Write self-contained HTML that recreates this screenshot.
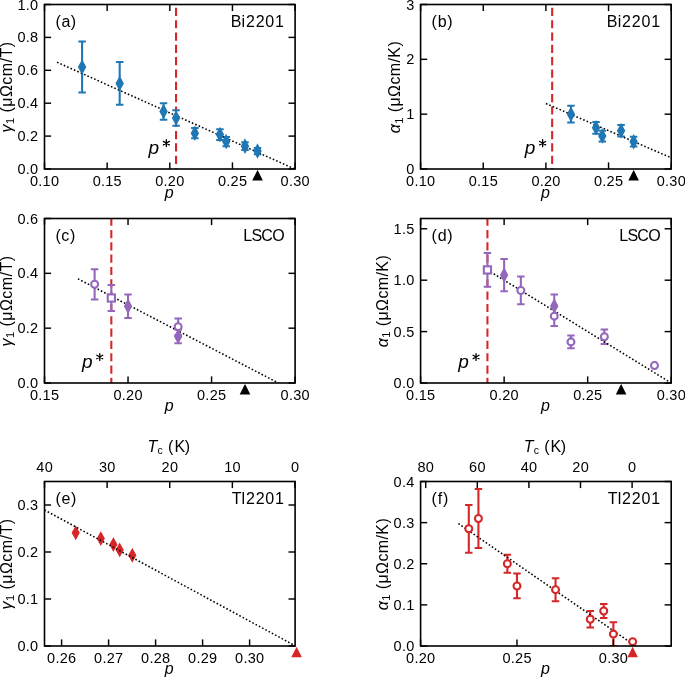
<!DOCTYPE html>
<html><head><meta charset="utf-8"><style>html,body{margin:0;padding:0;background:#fff;width:685px;height:678px;overflow:hidden}</style></head>
<body>
<svg width="685" height="678" viewBox="0 0 685 678" style="display:block;will-change:transform;font-family:'Liberation Sans',sans-serif">
<rect width="685" height="678" fill="#fff"/>
<defs>
<clipPath id="ca"><rect x="44.5" y="4.5" width="250.6" height="164.5"/></clipPath>
<clipPath id="cb"><rect x="420.6" y="4.5" width="250.6" height="164.5"/></clipPath>
<clipPath id="cc"><rect x="44.5" y="218.5" width="250.6" height="164.5"/></clipPath>
<clipPath id="cd"><rect x="420.6" y="218.5" width="250.6" height="164.5"/></clipPath>
<clipPath id="ce"><rect x="44.5" y="481.5" width="250.6" height="164.5"/></clipPath>
<clipPath id="cf"><rect x="420.6" y="481.5" width="250.6" height="164.5"/></clipPath>
</defs>
<g clip-path="url(#ca)">
<line x1="176.06" y1="169" x2="176.06" y2="4.5" stroke="#d62728" stroke-width="2.08" stroke-dasharray="8.2 4.12" stroke-dashoffset="7.2"/>
<line x1="82.09" y1="92.51" x2="82.09" y2="41.51" stroke="#1f77b4" stroke-width="2.08"/>
<line x1="78.34" y1="92.51" x2="85.84" y2="92.51" stroke="#1f77b4" stroke-width="2.0"/>
<line x1="78.34" y1="41.51" x2="85.84" y2="41.51" stroke="#1f77b4" stroke-width="2.0"/>
<line x1="119.68" y1="104.84" x2="119.68" y2="62.08" stroke="#1f77b4" stroke-width="2.08"/>
<line x1="115.93" y1="104.84" x2="123.43" y2="104.84" stroke="#1f77b4" stroke-width="2.0"/>
<line x1="115.93" y1="62.08" x2="123.43" y2="62.08" stroke="#1f77b4" stroke-width="2.0"/>
<line x1="163.54" y1="119.65" x2="163.54" y2="103.2" stroke="#1f77b4" stroke-width="2.08"/>
<line x1="159.79" y1="119.65" x2="167.29" y2="119.65" stroke="#1f77b4" stroke-width="2.0"/>
<line x1="159.79" y1="103.2" x2="167.29" y2="103.2" stroke="#1f77b4" stroke-width="2.0"/>
<line x1="176.06" y1="125.74" x2="176.06" y2="110.27" stroke="#1f77b4" stroke-width="2.08"/>
<line x1="172.31" y1="125.74" x2="179.81" y2="125.74" stroke="#1f77b4" stroke-width="2.0"/>
<line x1="172.31" y1="110.27" x2="179.81" y2="110.27" stroke="#1f77b4" stroke-width="2.0"/>
<line x1="194.86" y1="138.24" x2="194.86" y2="128.04" stroke="#1f77b4" stroke-width="2.08"/>
<line x1="191.11" y1="138.24" x2="198.61" y2="138.24" stroke="#1f77b4" stroke-width="2.0"/>
<line x1="191.11" y1="128.04" x2="198.61" y2="128.04" stroke="#1f77b4" stroke-width="2.0"/>
<line x1="219.92" y1="140.05" x2="219.92" y2="129.19" stroke="#1f77b4" stroke-width="2.08"/>
<line x1="216.17" y1="140.05" x2="223.67" y2="140.05" stroke="#1f77b4" stroke-width="2.0"/>
<line x1="216.17" y1="129.19" x2="223.67" y2="129.19" stroke="#1f77b4" stroke-width="2.0"/>
<line x1="226.19" y1="146.13" x2="226.19" y2="136.92" stroke="#1f77b4" stroke-width="2.08"/>
<line x1="222.44" y1="146.13" x2="229.94" y2="146.13" stroke="#1f77b4" stroke-width="2.0"/>
<line x1="222.44" y1="136.92" x2="229.94" y2="136.92" stroke="#1f77b4" stroke-width="2.0"/>
<line x1="244.98" y1="150.08" x2="244.98" y2="142.19" stroke="#1f77b4" stroke-width="2.08"/>
<line x1="241.23" y1="150.08" x2="248.73" y2="150.08" stroke="#1f77b4" stroke-width="2.0"/>
<line x1="241.23" y1="142.19" x2="248.73" y2="142.19" stroke="#1f77b4" stroke-width="2.0"/>
<line x1="257.51" y1="154.13" x2="257.51" y2="148.01" stroke="#1f77b4" stroke-width="2.08"/>
<line x1="253.76" y1="154.13" x2="261.26" y2="154.13" stroke="#1f77b4" stroke-width="2.0"/>
<line x1="253.76" y1="148.01" x2="261.26" y2="148.01" stroke="#1f77b4" stroke-width="2.0"/>
<line x1="57.03" y1="62.24" x2="294.72" y2="169" stroke="#000" stroke-width="1.55" stroke-dasharray="1.6 2.095" stroke-dashoffset="0"/>
<polygon points="82.09,60.71 85.49,67.01 82.09,73.31 78.69,67.01" fill="#1f77b4" stroke="#1f77b4" stroke-width="1.39" stroke-linejoin="miter" stroke-miterlimit="6"/>
<polygon points="119.68,77.16 123.08,83.46 119.68,89.76 116.28,83.46" fill="#1f77b4" stroke="#1f77b4" stroke-width="1.39" stroke-linejoin="miter" stroke-miterlimit="6"/>
<polygon points="163.54,105.13 166.94,111.43 163.54,117.73 160.14,111.43" fill="#1f77b4" stroke="#1f77b4" stroke-width="1.39" stroke-linejoin="miter" stroke-miterlimit="6"/>
<polygon points="176.06,111.7 179.47,118 176.06,124.3 172.66,118" fill="#1f77b4" stroke="#1f77b4" stroke-width="1.39" stroke-linejoin="miter" stroke-miterlimit="6"/>
<polygon points="194.86,126.84 198.26,133.14 194.86,139.44 191.46,133.14" fill="#1f77b4" stroke="#1f77b4" stroke-width="1.39" stroke-linejoin="miter" stroke-miterlimit="6"/>
<polygon points="219.92,128.32 223.32,134.62 219.92,140.92 216.52,134.62" fill="#1f77b4" stroke="#1f77b4" stroke-width="1.39" stroke-linejoin="miter" stroke-miterlimit="6"/>
<polygon points="226.19,135.23 229.59,141.53 226.19,147.83 222.78,141.53" fill="#1f77b4" stroke="#1f77b4" stroke-width="1.39" stroke-linejoin="miter" stroke-miterlimit="6"/>
<polygon points="244.98,139.83 248.38,146.13 244.98,152.43 241.58,146.13" fill="#1f77b4" stroke="#1f77b4" stroke-width="1.39" stroke-linejoin="miter" stroke-miterlimit="6"/>
<polygon points="257.51,144.77 260.91,151.07 257.51,157.37 254.11,151.07" fill="#1f77b4" stroke="#1f77b4" stroke-width="1.39" stroke-linejoin="miter" stroke-miterlimit="6"/>
</g>
<g clip-path="url(#cb)">
<line x1="552.16" y1="169" x2="552.16" y2="4.5" stroke="#d62728" stroke-width="2.08" stroke-dasharray="8.2 4.12" stroke-dashoffset="7.2"/>
<line x1="570.96" y1="122.5" x2="570.96" y2="105.83" stroke="#1f77b4" stroke-width="2.08"/>
<line x1="567.21" y1="122.5" x2="574.71" y2="122.5" stroke="#1f77b4" stroke-width="2.0"/>
<line x1="567.21" y1="105.83" x2="574.71" y2="105.83" stroke="#1f77b4" stroke-width="2.0"/>
<line x1="596.02" y1="133.63" x2="596.02" y2="121.9" stroke="#1f77b4" stroke-width="2.08"/>
<line x1="592.27" y1="133.63" x2="599.77" y2="133.63" stroke="#1f77b4" stroke-width="2.0"/>
<line x1="592.27" y1="121.9" x2="599.77" y2="121.9" stroke="#1f77b4" stroke-width="2.0"/>
<line x1="602.29" y1="141.47" x2="602.29" y2="130.73" stroke="#1f77b4" stroke-width="2.08"/>
<line x1="598.54" y1="141.47" x2="606.04" y2="141.47" stroke="#1f77b4" stroke-width="2.0"/>
<line x1="598.54" y1="130.73" x2="606.04" y2="130.73" stroke="#1f77b4" stroke-width="2.0"/>
<line x1="621.08" y1="136.54" x2="621.08" y2="124.91" stroke="#1f77b4" stroke-width="2.08"/>
<line x1="617.33" y1="136.54" x2="624.83" y2="136.54" stroke="#1f77b4" stroke-width="2.0"/>
<line x1="617.33" y1="124.91" x2="624.83" y2="124.91" stroke="#1f77b4" stroke-width="2.0"/>
<line x1="633.61" y1="146.46" x2="633.61" y2="136.81" stroke="#1f77b4" stroke-width="2.08"/>
<line x1="629.86" y1="146.46" x2="637.36" y2="146.46" stroke="#1f77b4" stroke-width="2.0"/>
<line x1="629.86" y1="136.81" x2="637.36" y2="136.81" stroke="#1f77b4" stroke-width="2.0"/>
<line x1="545.9" y1="103.53" x2="671.2" y2="157.81" stroke="#000" stroke-width="1.55" stroke-dasharray="1.6 2.095" stroke-dashoffset="0"/>
<polygon points="570.96,107.87 574.36,114.17 570.96,120.47 567.56,114.17" fill="#1f77b4" stroke="#1f77b4" stroke-width="1.39" stroke-linejoin="miter" stroke-miterlimit="6"/>
<polygon points="596.02,121.47 599.42,127.77 596.02,134.07 592.62,127.77" fill="#1f77b4" stroke="#1f77b4" stroke-width="1.39" stroke-linejoin="miter" stroke-miterlimit="6"/>
<polygon points="602.29,129.8 605.69,136.1 602.29,142.4 598.89,136.1" fill="#1f77b4" stroke="#1f77b4" stroke-width="1.39" stroke-linejoin="miter" stroke-miterlimit="6"/>
<polygon points="621.08,124.43 624.48,130.73 621.08,137.03 617.68,130.73" fill="#1f77b4" stroke="#1f77b4" stroke-width="1.39" stroke-linejoin="miter" stroke-miterlimit="6"/>
<polygon points="633.61,135.34 637.01,141.64 633.61,147.94 630.21,141.64" fill="#1f77b4" stroke="#1f77b4" stroke-width="1.39" stroke-linejoin="miter" stroke-miterlimit="6"/>
</g>
<g clip-path="url(#cc)">
<line x1="111.33" y1="383" x2="111.33" y2="218.5" stroke="#d62728" stroke-width="2.08" stroke-dasharray="8.2 4.12" stroke-dashoffset="3"/>
<line x1="94.62" y1="299.38" x2="94.62" y2="269.22" stroke="#9467bd" stroke-width="2.08"/>
<line x1="90.87" y1="299.38" x2="98.37" y2="299.38" stroke="#9467bd" stroke-width="2.0"/>
<line x1="90.87" y1="269.22" x2="98.37" y2="269.22" stroke="#9467bd" stroke-width="2.0"/>
<line x1="111.33" y1="310.89" x2="111.33" y2="285.12" stroke="#9467bd" stroke-width="2.08"/>
<line x1="107.58" y1="310.89" x2="115.08" y2="310.89" stroke="#9467bd" stroke-width="2.0"/>
<line x1="107.58" y1="285.12" x2="115.08" y2="285.12" stroke="#9467bd" stroke-width="2.0"/>
<line x1="128.03" y1="318.02" x2="128.03" y2="294.44" stroke="#9467bd" stroke-width="2.08"/>
<line x1="124.28" y1="318.02" x2="131.78" y2="318.02" stroke="#9467bd" stroke-width="2.0"/>
<line x1="124.28" y1="294.44" x2="131.78" y2="294.44" stroke="#9467bd" stroke-width="2.0"/>
<line x1="178.15" y1="335.02" x2="178.15" y2="318.57" stroke="#9467bd" stroke-width="2.08"/>
<line x1="174.4" y1="335.02" x2="181.9" y2="335.02" stroke="#9467bd" stroke-width="2.0"/>
<line x1="174.4" y1="318.57" x2="181.9" y2="318.57" stroke="#9467bd" stroke-width="2.0"/>
<line x1="178.15" y1="343.25" x2="178.15" y2="329.54" stroke="#9467bd" stroke-width="2.08"/>
<line x1="174.4" y1="343.25" x2="181.9" y2="343.25" stroke="#9467bd" stroke-width="2.0"/>
<line x1="174.4" y1="329.54" x2="181.9" y2="329.54" stroke="#9467bd" stroke-width="2.0"/>
<line x1="77.91" y1="278.82" x2="278.39" y2="383" stroke="#000" stroke-width="1.55" stroke-dasharray="1.6 2.095" stroke-dashoffset="0"/>
<circle cx="94.62" cy="284.3" r="3.47" fill="#fff" stroke="#9467bd" stroke-width="2.08"/>
<rect x="107.73" y="294.41" width="7.2" height="7.2" fill="#fff" stroke="#9467bd" stroke-width="2.08"/>
<polygon points="128.03,299.93 131.43,306.23 128.03,312.53 124.63,306.23" fill="#9467bd" stroke="#9467bd" stroke-width="1.39" stroke-linejoin="miter" stroke-miterlimit="6"/>
<circle cx="178.15" cy="326.8" r="3.47" fill="#fff" stroke="#9467bd" stroke-width="2.08"/>
<polygon points="178.15,330.09 181.55,336.39 178.15,342.69 174.75,336.39" fill="#9467bd" stroke="#9467bd" stroke-width="1.39" stroke-linejoin="miter" stroke-miterlimit="6"/>
</g>
<g clip-path="url(#cd)">
<line x1="487.43" y1="383" x2="487.43" y2="218.5" stroke="#d62728" stroke-width="2.08" stroke-dasharray="8.2 4.12" stroke-dashoffset="3"/>
<line x1="487.43" y1="286.87" x2="487.43" y2="252.94" stroke="#9467bd" stroke-width="2.08"/>
<line x1="483.68" y1="286.87" x2="491.18" y2="286.87" stroke="#9467bd" stroke-width="2.0"/>
<line x1="483.68" y1="252.94" x2="491.18" y2="252.94" stroke="#9467bd" stroke-width="2.0"/>
<line x1="504.13" y1="291.19" x2="504.13" y2="258.91" stroke="#9467bd" stroke-width="2.08"/>
<line x1="500.38" y1="291.19" x2="507.88" y2="291.19" stroke="#9467bd" stroke-width="2.0"/>
<line x1="500.38" y1="258.91" x2="507.88" y2="258.91" stroke="#9467bd" stroke-width="2.0"/>
<line x1="520.84" y1="304.35" x2="520.84" y2="276.59" stroke="#9467bd" stroke-width="2.08"/>
<line x1="517.09" y1="304.35" x2="524.59" y2="304.35" stroke="#9467bd" stroke-width="2.0"/>
<line x1="517.09" y1="276.59" x2="524.59" y2="276.59" stroke="#9467bd" stroke-width="2.0"/>
<line x1="554.25" y1="317.2" x2="554.25" y2="294.58" stroke="#9467bd" stroke-width="2.08"/>
<line x1="550.5" y1="317.2" x2="558" y2="317.2" stroke="#9467bd" stroke-width="2.0"/>
<line x1="550.5" y1="294.58" x2="558" y2="294.58" stroke="#9467bd" stroke-width="2.0"/>
<line x1="554.25" y1="325.94" x2="554.25" y2="306.4" stroke="#9467bd" stroke-width="2.08"/>
<line x1="550.5" y1="325.94" x2="558" y2="325.94" stroke="#9467bd" stroke-width="2.0"/>
<line x1="550.5" y1="306.4" x2="558" y2="306.4" stroke="#9467bd" stroke-width="2.0"/>
<line x1="570.96" y1="348.35" x2="570.96" y2="335.4" stroke="#9467bd" stroke-width="2.08"/>
<line x1="567.21" y1="348.35" x2="574.71" y2="348.35" stroke="#9467bd" stroke-width="2.0"/>
<line x1="567.21" y1="335.4" x2="574.71" y2="335.4" stroke="#9467bd" stroke-width="2.0"/>
<line x1="604.37" y1="343.93" x2="604.37" y2="329.54" stroke="#9467bd" stroke-width="2.08"/>
<line x1="600.62" y1="343.93" x2="608.12" y2="343.93" stroke="#9467bd" stroke-width="2.0"/>
<line x1="600.62" y1="329.54" x2="608.12" y2="329.54" stroke="#9467bd" stroke-width="2.0"/>
<line x1="487.43" y1="269.91" x2="671.2" y2="383" stroke="#000" stroke-width="1.55" stroke-dasharray="1.6 2.095" stroke-dashoffset="0"/>
<rect x="483.83" y="266.31" width="7.2" height="7.2" fill="#fff" stroke="#9467bd" stroke-width="2.08"/>
<polygon points="504.13,268.75 507.53,275.05 504.13,281.35 500.73,275.05" fill="#9467bd" stroke="#9467bd" stroke-width="1.39" stroke-linejoin="miter" stroke-miterlimit="6"/>
<circle cx="520.84" cy="290.47" r="3.47" fill="#fff" stroke="#9467bd" stroke-width="2.08"/>
<polygon points="554.25,299.59 557.65,305.89 554.25,312.19 550.85,305.89" fill="#9467bd" stroke="#9467bd" stroke-width="1.39" stroke-linejoin="miter" stroke-miterlimit="6"/>
<circle cx="554.25" cy="316.17" r="3.47" fill="#fff" stroke="#9467bd" stroke-width="2.08"/>
<circle cx="570.96" cy="341.88" r="3.47" fill="#fff" stroke="#9467bd" stroke-width="2.08"/>
<circle cx="604.37" cy="336.73" r="3.47" fill="#fff" stroke="#9467bd" stroke-width="2.08"/>
<circle cx="654.49" cy="365.52" r="3.47" fill="#fff" stroke="#9467bd" stroke-width="2.08"/>
</g>
<g clip-path="url(#ce)">
<polygon points="75.7,526.83 79,532.78 75.7,538.73 72.4,532.78" fill="#d62728" stroke="#d62728" stroke-width="1.39" stroke-linejoin="miter" stroke-miterlimit="6"/>
<polygon points="100.8,532.65 104.1,538.61 100.8,544.56 97.5,538.61" fill="#d62728" stroke="#d62728" stroke-width="1.39" stroke-linejoin="miter" stroke-miterlimit="6"/>
<polygon points="113.39,538.67 116.69,544.62 113.39,550.57 110.09,544.62" fill="#d62728" stroke="#d62728" stroke-width="1.39" stroke-linejoin="miter" stroke-miterlimit="6"/>
<polygon points="119.69,543.98 122.99,549.93 119.69,555.88 116.39,549.93" fill="#d62728" stroke="#d62728" stroke-width="1.39" stroke-linejoin="miter" stroke-miterlimit="6"/>
<polygon points="132.29,549.39 135.59,555.34 132.29,561.29 128.99,555.34" fill="#d62728" stroke="#d62728" stroke-width="1.39" stroke-linejoin="miter" stroke-miterlimit="6"/>
<line x1="44.5" y1="510" x2="295.2" y2="645.8" stroke="#000" stroke-width="1.55" stroke-dasharray="1.6 2.095" stroke-dashoffset="0.1"/>
</g>
<g clip-path="url(#cf)">
<line x1="468.79" y1="552.65" x2="468.79" y2="504.94" stroke="#d62728" stroke-width="2.08"/>
<line x1="465.04" y1="552.65" x2="472.54" y2="552.65" stroke="#d62728" stroke-width="2.0"/>
<line x1="465.04" y1="504.94" x2="472.54" y2="504.94" stroke="#d62728" stroke-width="2.0"/>
<line x1="478.43" y1="548.12" x2="478.43" y2="488.9" stroke="#d62728" stroke-width="2.08"/>
<line x1="474.68" y1="548.12" x2="482.18" y2="548.12" stroke="#d62728" stroke-width="2.0"/>
<line x1="474.68" y1="488.9" x2="482.18" y2="488.9" stroke="#d62728" stroke-width="2.0"/>
<line x1="507.35" y1="572.8" x2="507.35" y2="554.7" stroke="#d62728" stroke-width="2.08"/>
<line x1="503.6" y1="572.8" x2="511.1" y2="572.8" stroke="#d62728" stroke-width="2.0"/>
<line x1="503.6" y1="554.7" x2="511.1" y2="554.7" stroke="#d62728" stroke-width="2.0"/>
<line x1="516.98" y1="598.29" x2="516.98" y2="573.62" stroke="#d62728" stroke-width="2.08"/>
<line x1="513.23" y1="598.29" x2="520.73" y2="598.29" stroke="#d62728" stroke-width="2.0"/>
<line x1="513.23" y1="573.62" x2="520.73" y2="573.62" stroke="#d62728" stroke-width="2.0"/>
<line x1="555.54" y1="601.17" x2="555.54" y2="578.14" stroke="#d62728" stroke-width="2.08"/>
<line x1="551.79" y1="601.17" x2="559.29" y2="601.17" stroke="#d62728" stroke-width="2.0"/>
<line x1="551.79" y1="578.14" x2="559.29" y2="578.14" stroke="#d62728" stroke-width="2.0"/>
<line x1="590.24" y1="627.49" x2="590.24" y2="611.04" stroke="#d62728" stroke-width="2.08"/>
<line x1="586.49" y1="627.49" x2="593.99" y2="627.49" stroke="#d62728" stroke-width="2.0"/>
<line x1="586.49" y1="611.04" x2="593.99" y2="611.04" stroke="#d62728" stroke-width="2.0"/>
<line x1="603.73" y1="618.03" x2="603.73" y2="604.05" stroke="#d62728" stroke-width="2.08"/>
<line x1="599.98" y1="618.03" x2="607.48" y2="618.03" stroke="#d62728" stroke-width="2.0"/>
<line x1="599.98" y1="604.05" x2="607.48" y2="604.05" stroke="#d62728" stroke-width="2.0"/>
<line x1="613.37" y1="646" x2="613.37" y2="622.15" stroke="#d62728" stroke-width="2.08"/>
<line x1="609.62" y1="646" x2="617.12" y2="646" stroke="#d62728" stroke-width="2.0"/>
<line x1="609.62" y1="622.15" x2="617.12" y2="622.15" stroke="#d62728" stroke-width="2.0"/>
<line x1="458.38" y1="523.57" x2="635.54" y2="646" stroke="#000" stroke-width="1.55" stroke-dasharray="1.6 2.095" stroke-dashoffset="0"/>
<circle cx="468.79" cy="528.79" r="3.47" fill="#fff" stroke="#d62728" stroke-width="2.08"/>
<circle cx="478.43" cy="518.51" r="3.47" fill="#fff" stroke="#d62728" stroke-width="2.08"/>
<circle cx="507.35" cy="563.75" r="3.47" fill="#fff" stroke="#d62728" stroke-width="2.08"/>
<circle cx="516.98" cy="585.96" r="3.47" fill="#fff" stroke="#d62728" stroke-width="2.08"/>
<circle cx="555.54" cy="589.66" r="3.47" fill="#fff" stroke="#d62728" stroke-width="2.08"/>
<circle cx="590.24" cy="619.27" r="3.47" fill="#fff" stroke="#d62728" stroke-width="2.08"/>
<circle cx="603.73" cy="611.04" r="3.47" fill="#fff" stroke="#d62728" stroke-width="2.08"/>
<circle cx="613.37" cy="634.07" r="3.47" fill="#fff" stroke="#d62728" stroke-width="2.08"/>
<circle cx="632.65" cy="641.68" r="3.47" fill="#fff" stroke="#d62728" stroke-width="2.08"/>
</g>
<g stroke="#000" stroke-width="1.45">
<line x1="44.5" y1="169" x2="44.5" y2="162.4"/>
<line x1="44.5" y1="4.5" x2="44.5" y2="11.1"/>
<line x1="107.15" y1="169" x2="107.15" y2="162.4"/>
<line x1="107.15" y1="4.5" x2="107.15" y2="11.1"/>
<line x1="169.8" y1="169" x2="169.8" y2="162.4"/>
<line x1="169.8" y1="4.5" x2="169.8" y2="11.1"/>
<line x1="232.45" y1="169" x2="232.45" y2="162.4"/>
<line x1="232.45" y1="4.5" x2="232.45" y2="11.1"/>
<line x1="295.1" y1="169" x2="295.1" y2="162.4"/>
<line x1="295.1" y1="4.5" x2="295.1" y2="11.1"/>
<line x1="44.5" y1="169" x2="51.1" y2="169"/>
<line x1="295.1" y1="169" x2="288.5" y2="169"/>
<line x1="44.5" y1="136.1" x2="51.1" y2="136.1"/>
<line x1="295.1" y1="136.1" x2="288.5" y2="136.1"/>
<line x1="44.5" y1="103.2" x2="51.1" y2="103.2"/>
<line x1="295.1" y1="103.2" x2="288.5" y2="103.2"/>
<line x1="44.5" y1="70.3" x2="51.1" y2="70.3"/>
<line x1="295.1" y1="70.3" x2="288.5" y2="70.3"/>
<line x1="44.5" y1="37.4" x2="51.1" y2="37.4"/>
<line x1="295.1" y1="37.4" x2="288.5" y2="37.4"/>
<line x1="44.5" y1="4.5" x2="51.1" y2="4.5"/>
<line x1="295.1" y1="4.5" x2="288.5" y2="4.5"/>
<line x1="420.6" y1="169" x2="420.6" y2="162.4"/>
<line x1="420.6" y1="4.5" x2="420.6" y2="11.1"/>
<line x1="483.25" y1="169" x2="483.25" y2="162.4"/>
<line x1="483.25" y1="4.5" x2="483.25" y2="11.1"/>
<line x1="545.9" y1="169" x2="545.9" y2="162.4"/>
<line x1="545.9" y1="4.5" x2="545.9" y2="11.1"/>
<line x1="608.55" y1="169" x2="608.55" y2="162.4"/>
<line x1="608.55" y1="4.5" x2="608.55" y2="11.1"/>
<line x1="671.2" y1="169" x2="671.2" y2="162.4"/>
<line x1="671.2" y1="4.5" x2="671.2" y2="11.1"/>
<line x1="420.6" y1="169" x2="427.2" y2="169"/>
<line x1="671.2" y1="169" x2="664.6" y2="169"/>
<line x1="420.6" y1="114.17" x2="427.2" y2="114.17"/>
<line x1="671.2" y1="114.17" x2="664.6" y2="114.17"/>
<line x1="420.6" y1="59.33" x2="427.2" y2="59.33"/>
<line x1="671.2" y1="59.33" x2="664.6" y2="59.33"/>
<line x1="420.6" y1="4.5" x2="427.2" y2="4.5"/>
<line x1="671.2" y1="4.5" x2="664.6" y2="4.5"/>
<line x1="44.5" y1="383" x2="44.5" y2="376.4"/>
<line x1="44.5" y1="218.5" x2="44.5" y2="225.1"/>
<line x1="128.03" y1="383" x2="128.03" y2="376.4"/>
<line x1="128.03" y1="218.5" x2="128.03" y2="225.1"/>
<line x1="211.57" y1="383" x2="211.57" y2="376.4"/>
<line x1="211.57" y1="218.5" x2="211.57" y2="225.1"/>
<line x1="295.1" y1="383" x2="295.1" y2="376.4"/>
<line x1="295.1" y1="218.5" x2="295.1" y2="225.1"/>
<line x1="44.5" y1="383" x2="51.1" y2="383"/>
<line x1="295.1" y1="383" x2="288.5" y2="383"/>
<line x1="44.5" y1="328.17" x2="51.1" y2="328.17"/>
<line x1="295.1" y1="328.17" x2="288.5" y2="328.17"/>
<line x1="44.5" y1="273.33" x2="51.1" y2="273.33"/>
<line x1="295.1" y1="273.33" x2="288.5" y2="273.33"/>
<line x1="44.5" y1="218.5" x2="51.1" y2="218.5"/>
<line x1="295.1" y1="218.5" x2="288.5" y2="218.5"/>
<line x1="420.6" y1="383" x2="420.6" y2="376.4"/>
<line x1="420.6" y1="218.5" x2="420.6" y2="225.1"/>
<line x1="504.13" y1="383" x2="504.13" y2="376.4"/>
<line x1="504.13" y1="218.5" x2="504.13" y2="225.1"/>
<line x1="587.67" y1="383" x2="587.67" y2="376.4"/>
<line x1="587.67" y1="218.5" x2="587.67" y2="225.1"/>
<line x1="671.2" y1="383" x2="671.2" y2="376.4"/>
<line x1="671.2" y1="218.5" x2="671.2" y2="225.1"/>
<line x1="420.6" y1="383" x2="427.2" y2="383"/>
<line x1="671.2" y1="383" x2="664.6" y2="383"/>
<line x1="420.6" y1="331.59" x2="427.2" y2="331.59"/>
<line x1="671.2" y1="331.59" x2="664.6" y2="331.59"/>
<line x1="420.6" y1="280.19" x2="427.2" y2="280.19"/>
<line x1="671.2" y1="280.19" x2="664.6" y2="280.19"/>
<line x1="420.6" y1="228.78" x2="427.2" y2="228.78"/>
<line x1="671.2" y1="228.78" x2="664.6" y2="228.78"/>
<line x1="61.6" y1="646" x2="61.6" y2="639.4"/>
<line x1="108.6" y1="646" x2="108.6" y2="639.4"/>
<line x1="155.6" y1="646" x2="155.6" y2="639.4"/>
<line x1="202.6" y1="646" x2="202.6" y2="639.4"/>
<line x1="249.6" y1="646" x2="249.6" y2="639.4"/>
<line x1="44.5" y1="481.5" x2="44.5" y2="488.1"/>
<line x1="107.12" y1="481.5" x2="107.12" y2="488.1"/>
<line x1="169.74" y1="481.5" x2="169.74" y2="488.1"/>
<line x1="232.36" y1="481.5" x2="232.36" y2="488.1"/>
<line x1="294.98" y1="481.5" x2="294.98" y2="488.1"/>
<line x1="44.5" y1="646" x2="51.1" y2="646"/>
<line x1="295.1" y1="646" x2="288.5" y2="646"/>
<line x1="44.5" y1="599" x2="51.1" y2="599"/>
<line x1="295.1" y1="599" x2="288.5" y2="599"/>
<line x1="44.5" y1="552" x2="51.1" y2="552"/>
<line x1="295.1" y1="552" x2="288.5" y2="552"/>
<line x1="44.5" y1="505" x2="51.1" y2="505"/>
<line x1="295.1" y1="505" x2="288.5" y2="505"/>
<line x1="420.6" y1="646" x2="420.6" y2="639.4"/>
<line x1="516.98" y1="646" x2="516.98" y2="639.4"/>
<line x1="613.37" y1="646" x2="613.37" y2="639.4"/>
<line x1="425.7" y1="481.5" x2="425.7" y2="488.1"/>
<line x1="477.3" y1="481.5" x2="477.3" y2="488.1"/>
<line x1="528.9" y1="481.5" x2="528.9" y2="488.1"/>
<line x1="580.5" y1="481.5" x2="580.5" y2="488.1"/>
<line x1="632.1" y1="481.5" x2="632.1" y2="488.1"/>
<line x1="420.6" y1="646" x2="427.2" y2="646"/>
<line x1="671.2" y1="646" x2="664.6" y2="646"/>
<line x1="420.6" y1="604.88" x2="427.2" y2="604.88"/>
<line x1="671.2" y1="604.88" x2="664.6" y2="604.88"/>
<line x1="420.6" y1="563.75" x2="427.2" y2="563.75"/>
<line x1="671.2" y1="563.75" x2="664.6" y2="563.75"/>
<line x1="420.6" y1="522.62" x2="427.2" y2="522.62"/>
<line x1="671.2" y1="522.62" x2="664.6" y2="522.62"/>
<line x1="420.6" y1="481.5" x2="427.2" y2="481.5"/>
<line x1="671.2" y1="481.5" x2="664.6" y2="481.5"/>
</g>
<rect x="44.5" y="4.5" width="250.6" height="164.5" fill="none" stroke="#000" stroke-width="1.6" stroke-linejoin="miter"/>
<rect x="420.6" y="4.5" width="250.6" height="164.5" fill="none" stroke="#000" stroke-width="1.6" stroke-linejoin="miter"/>
<rect x="44.5" y="218.5" width="250.6" height="164.5" fill="none" stroke="#000" stroke-width="1.6" stroke-linejoin="miter"/>
<rect x="420.6" y="218.5" width="250.6" height="164.5" fill="none" stroke="#000" stroke-width="1.6" stroke-linejoin="miter"/>
<rect x="44.5" y="481.5" width="250.6" height="164.5" fill="none" stroke="#000" stroke-width="1.6" stroke-linejoin="miter"/>
<rect x="420.6" y="481.5" width="250.6" height="164.5" fill="none" stroke="#000" stroke-width="1.6" stroke-linejoin="miter"/>
<polygon points="257.51,171.43 261.68,179.77 253.34,179.77" fill="#000" stroke="#000" stroke-width="1.39" stroke-linejoin="miter" stroke-miterlimit="6"/>
<polygon points="633.61,171.43 637.78,179.77 629.44,179.77" fill="#000" stroke="#000" stroke-width="1.39" stroke-linejoin="miter" stroke-miterlimit="6"/>
<polygon points="244.98,385.43 249.15,393.77 240.81,393.77" fill="#000" stroke="#000" stroke-width="1.39" stroke-linejoin="miter" stroke-miterlimit="6"/>
<polygon points="621.08,385.43 625.25,393.77 616.91,393.77" fill="#000" stroke="#000" stroke-width="1.39" stroke-linejoin="miter" stroke-miterlimit="6"/>
<polygon points="296.6,648.33 300.77,656.67 292.43,656.67" fill="#d62728" stroke="#d62728" stroke-width="1.39" stroke-linejoin="miter" stroke-miterlimit="6"/>
<polygon points="632.65,648.33 636.81,656.67 628.48,656.67" fill="#d62728" stroke="#d62728" stroke-width="1.39" stroke-linejoin="miter" stroke-miterlimit="6"/>
<text fill="#000" ><tspan x="29.98" y="185.6" style="font-size:14.5px">0</tspan><tspan x="38.29" y="185.6" style="font-size:14.5px">.</tspan><tspan x="42.56" y="185.6" style="font-size:14.5px">1</tspan><tspan x="50.96" y="185.6" style="font-size:14.5px">0</tspan></text>
<text fill="#000" ><tspan x="92.63" y="185.6" style="font-size:14.5px">0</tspan><tspan x="100.94" y="185.6" style="font-size:14.5px">.</tspan><tspan x="105.21" y="185.6" style="font-size:14.5px">1</tspan><tspan x="113.61" y="185.6" style="font-size:14.5px">5</tspan></text>
<text fill="#000" ><tspan x="155.28" y="185.6" style="font-size:14.5px">0</tspan><tspan x="163.59" y="185.6" style="font-size:14.5px">.</tspan><tspan x="167.86" y="185.6" style="font-size:14.5px">2</tspan><tspan x="176.26" y="185.6" style="font-size:14.5px">0</tspan></text>
<text fill="#000" ><tspan x="217.93" y="185.6" style="font-size:14.5px">0</tspan><tspan x="226.24" y="185.6" style="font-size:14.5px">.</tspan><tspan x="230.51" y="185.6" style="font-size:14.5px">2</tspan><tspan x="238.91" y="185.6" style="font-size:14.5px">5</tspan></text>
<text fill="#000" ><tspan x="280.58" y="185.6" style="font-size:14.5px">0</tspan><tspan x="288.89" y="185.6" style="font-size:14.5px">.</tspan><tspan x="293.16" y="185.6" style="font-size:14.5px">3</tspan><tspan x="301.56" y="185.6" style="font-size:14.5px">0</tspan></text>
<text fill="#000" ><tspan x="17.49" y="174" style="font-size:14.5px">0</tspan><tspan x="25.8" y="174" style="font-size:14.5px">.</tspan><tspan x="30.07" y="174" style="font-size:14.5px">0</tspan></text>
<text fill="#000" ><tspan x="17.49" y="141.1" style="font-size:14.5px">0</tspan><tspan x="25.8" y="141.1" style="font-size:14.5px">.</tspan><tspan x="30.07" y="141.1" style="font-size:14.5px">2</tspan></text>
<text fill="#000" ><tspan x="17.49" y="108.2" style="font-size:14.5px">0</tspan><tspan x="25.8" y="108.2" style="font-size:14.5px">.</tspan><tspan x="30.07" y="108.2" style="font-size:14.5px">4</tspan></text>
<text fill="#000" ><tspan x="17.49" y="75.3" style="font-size:14.5px">0</tspan><tspan x="25.8" y="75.3" style="font-size:14.5px">.</tspan><tspan x="30.07" y="75.3" style="font-size:14.5px">6</tspan></text>
<text fill="#000" ><tspan x="17.49" y="42.4" style="font-size:14.5px">0</tspan><tspan x="25.8" y="42.4" style="font-size:14.5px">.</tspan><tspan x="30.07" y="42.4" style="font-size:14.5px">8</tspan></text>
<text fill="#000" ><tspan x="17.49" y="9.5" style="font-size:14.5px">1</tspan><tspan x="25.8" y="9.5" style="font-size:14.5px">.</tspan><tspan x="30.07" y="9.5" style="font-size:14.5px">0</tspan></text>
<text fill="#000" ><tspan x="406.08" y="185.6" style="font-size:14.5px">0</tspan><tspan x="414.39" y="185.6" style="font-size:14.5px">.</tspan><tspan x="418.66" y="185.6" style="font-size:14.5px">1</tspan><tspan x="427.06" y="185.6" style="font-size:14.5px">0</tspan></text>
<text fill="#000" ><tspan x="468.73" y="185.6" style="font-size:14.5px">0</tspan><tspan x="477.04" y="185.6" style="font-size:14.5px">.</tspan><tspan x="481.31" y="185.6" style="font-size:14.5px">1</tspan><tspan x="489.71" y="185.6" style="font-size:14.5px">5</tspan></text>
<text fill="#000" ><tspan x="531.38" y="185.6" style="font-size:14.5px">0</tspan><tspan x="539.69" y="185.6" style="font-size:14.5px">.</tspan><tspan x="543.96" y="185.6" style="font-size:14.5px">2</tspan><tspan x="552.36" y="185.6" style="font-size:14.5px">0</tspan></text>
<text fill="#000" ><tspan x="594.03" y="185.6" style="font-size:14.5px">0</tspan><tspan x="602.34" y="185.6" style="font-size:14.5px">.</tspan><tspan x="606.61" y="185.6" style="font-size:14.5px">2</tspan><tspan x="615.01" y="185.6" style="font-size:14.5px">5</tspan></text>
<text fill="#000" ><tspan x="656.68" y="185.6" style="font-size:14.5px">0</tspan><tspan x="664.99" y="185.6" style="font-size:14.5px">.</tspan><tspan x="669.26" y="185.6" style="font-size:14.5px">3</tspan><tspan x="677.66" y="185.6" style="font-size:14.5px">0</tspan></text>
<text fill="#000" ><tspan x="406.17" y="174" style="font-size:14.5px">0</tspan></text>
<text fill="#000" ><tspan x="406.17" y="119.17" style="font-size:14.5px">1</tspan></text>
<text fill="#000" ><tspan x="406.17" y="64.33" style="font-size:14.5px">2</tspan></text>
<text fill="#000" ><tspan x="406.17" y="9.5" style="font-size:14.5px">3</tspan></text>
<text fill="#000" ><tspan x="29.98" y="399.9" style="font-size:14.5px">0</tspan><tspan x="38.29" y="399.9" style="font-size:14.5px">.</tspan><tspan x="42.56" y="399.9" style="font-size:14.5px">1</tspan><tspan x="50.96" y="399.9" style="font-size:14.5px">5</tspan></text>
<text fill="#000" ><tspan x="113.51" y="399.9" style="font-size:14.5px">0</tspan><tspan x="121.82" y="399.9" style="font-size:14.5px">.</tspan><tspan x="126.1" y="399.9" style="font-size:14.5px">2</tspan><tspan x="134.49" y="399.9" style="font-size:14.5px">0</tspan></text>
<text fill="#000" ><tspan x="197.05" y="399.9" style="font-size:14.5px">0</tspan><tspan x="205.36" y="399.9" style="font-size:14.5px">.</tspan><tspan x="209.63" y="399.9" style="font-size:14.5px">2</tspan><tspan x="218.02" y="399.9" style="font-size:14.5px">5</tspan></text>
<text fill="#000" ><tspan x="280.58" y="399.9" style="font-size:14.5px">0</tspan><tspan x="288.89" y="399.9" style="font-size:14.5px">.</tspan><tspan x="293.16" y="399.9" style="font-size:14.5px">3</tspan><tspan x="301.56" y="399.9" style="font-size:14.5px">0</tspan></text>
<text fill="#000" ><tspan x="17.49" y="388" style="font-size:14.5px">0</tspan><tspan x="25.8" y="388" style="font-size:14.5px">.</tspan><tspan x="30.07" y="388" style="font-size:14.5px">0</tspan></text>
<text fill="#000" ><tspan x="17.49" y="333.17" style="font-size:14.5px">0</tspan><tspan x="25.8" y="333.17" style="font-size:14.5px">.</tspan><tspan x="30.07" y="333.17" style="font-size:14.5px">2</tspan></text>
<text fill="#000" ><tspan x="17.49" y="278.33" style="font-size:14.5px">0</tspan><tspan x="25.8" y="278.33" style="font-size:14.5px">.</tspan><tspan x="30.07" y="278.33" style="font-size:14.5px">4</tspan></text>
<text fill="#000" ><tspan x="17.49" y="223.5" style="font-size:14.5px">0</tspan><tspan x="25.8" y="223.5" style="font-size:14.5px">.</tspan><tspan x="30.07" y="223.5" style="font-size:14.5px">6</tspan></text>
<text fill="#000" ><tspan x="406.08" y="399.9" style="font-size:14.5px">0</tspan><tspan x="414.39" y="399.9" style="font-size:14.5px">.</tspan><tspan x="418.66" y="399.9" style="font-size:14.5px">1</tspan><tspan x="427.06" y="399.9" style="font-size:14.5px">5</tspan></text>
<text fill="#000" ><tspan x="489.61" y="399.9" style="font-size:14.5px">0</tspan><tspan x="497.92" y="399.9" style="font-size:14.5px">.</tspan><tspan x="502.2" y="399.9" style="font-size:14.5px">2</tspan><tspan x="510.59" y="399.9" style="font-size:14.5px">0</tspan></text>
<text fill="#000" ><tspan x="573.15" y="399.9" style="font-size:14.5px">0</tspan><tspan x="581.46" y="399.9" style="font-size:14.5px">.</tspan><tspan x="585.73" y="399.9" style="font-size:14.5px">2</tspan><tspan x="594.12" y="399.9" style="font-size:14.5px">5</tspan></text>
<text fill="#000" ><tspan x="656.68" y="399.9" style="font-size:14.5px">0</tspan><tspan x="664.99" y="399.9" style="font-size:14.5px">.</tspan><tspan x="669.26" y="399.9" style="font-size:14.5px">3</tspan><tspan x="677.66" y="399.9" style="font-size:14.5px">0</tspan></text>
<text fill="#000" ><tspan x="393.59" y="388" style="font-size:14.5px">0</tspan><tspan x="401.9" y="388" style="font-size:14.5px">.</tspan><tspan x="406.17" y="388" style="font-size:14.5px">0</tspan></text>
<text fill="#000" ><tspan x="393.59" y="336.59" style="font-size:14.5px">0</tspan><tspan x="401.9" y="336.59" style="font-size:14.5px">.</tspan><tspan x="406.17" y="336.59" style="font-size:14.5px">5</tspan></text>
<text fill="#000" ><tspan x="393.59" y="285.19" style="font-size:14.5px">1</tspan><tspan x="401.9" y="285.19" style="font-size:14.5px">.</tspan><tspan x="406.17" y="285.19" style="font-size:14.5px">0</tspan></text>
<text fill="#000" ><tspan x="393.59" y="233.78" style="font-size:14.5px">1</tspan><tspan x="401.9" y="233.78" style="font-size:14.5px">.</tspan><tspan x="406.17" y="233.78" style="font-size:14.5px">5</tspan></text>
<text fill="#000" ><tspan x="47.08" y="663.1" style="font-size:14.5px">0</tspan><tspan x="55.39" y="663.1" style="font-size:14.5px">.</tspan><tspan x="59.66" y="663.1" style="font-size:14.5px">2</tspan><tspan x="68.06" y="663.1" style="font-size:14.5px">6</tspan></text>
<text fill="#000" ><tspan x="94.08" y="663.1" style="font-size:14.5px">0</tspan><tspan x="102.39" y="663.1" style="font-size:14.5px">.</tspan><tspan x="106.66" y="663.1" style="font-size:14.5px">2</tspan><tspan x="115.06" y="663.1" style="font-size:14.5px">7</tspan></text>
<text fill="#000" ><tspan x="141.08" y="663.1" style="font-size:14.5px">0</tspan><tspan x="149.39" y="663.1" style="font-size:14.5px">.</tspan><tspan x="153.66" y="663.1" style="font-size:14.5px">2</tspan><tspan x="162.06" y="663.1" style="font-size:14.5px">8</tspan></text>
<text fill="#000" ><tspan x="188.08" y="663.1" style="font-size:14.5px">0</tspan><tspan x="196.39" y="663.1" style="font-size:14.5px">.</tspan><tspan x="200.66" y="663.1" style="font-size:14.5px">2</tspan><tspan x="209.06" y="663.1" style="font-size:14.5px">9</tspan></text>
<text fill="#000" ><tspan x="235.08" y="663.1" style="font-size:14.5px">0</tspan><tspan x="243.39" y="663.1" style="font-size:14.5px">.</tspan><tspan x="247.66" y="663.1" style="font-size:14.5px">3</tspan><tspan x="256.06" y="663.1" style="font-size:14.5px">0</tspan></text>
<text fill="#000" ><tspan x="17.49" y="651" style="font-size:14.5px">0</tspan><tspan x="25.8" y="651" style="font-size:14.5px">.</tspan><tspan x="30.07" y="651" style="font-size:14.5px">0</tspan></text>
<text fill="#000" ><tspan x="17.49" y="604" style="font-size:14.5px">0</tspan><tspan x="25.8" y="604" style="font-size:14.5px">.</tspan><tspan x="30.07" y="604" style="font-size:14.5px">1</tspan></text>
<text fill="#000" ><tspan x="17.49" y="557" style="font-size:14.5px">0</tspan><tspan x="25.8" y="557" style="font-size:14.5px">.</tspan><tspan x="30.07" y="557" style="font-size:14.5px">2</tspan></text>
<text fill="#000" ><tspan x="17.49" y="510" style="font-size:14.5px">0</tspan><tspan x="25.8" y="510" style="font-size:14.5px">.</tspan><tspan x="30.07" y="510" style="font-size:14.5px">3</tspan></text>
<text fill="#000" ><tspan x="36.27" y="472" style="font-size:14.5px">4</tspan><tspan x="44.66" y="472" style="font-size:14.5px">0</tspan></text>
<text fill="#000" ><tspan x="98.89" y="472" style="font-size:14.5px">3</tspan><tspan x="107.28" y="472" style="font-size:14.5px">0</tspan></text>
<text fill="#000" ><tspan x="161.51" y="472" style="font-size:14.5px">2</tspan><tspan x="169.9" y="472" style="font-size:14.5px">0</tspan></text>
<text fill="#000" ><tspan x="224.13" y="472" style="font-size:14.5px">1</tspan><tspan x="232.52" y="472" style="font-size:14.5px">0</tspan></text>
<text fill="#000" ><tspan x="290.95" y="472" style="font-size:14.5px">0</tspan></text>
<text fill="#000" ><tspan x="406.08" y="663.1" style="font-size:14.5px">0</tspan><tspan x="414.39" y="663.1" style="font-size:14.5px">.</tspan><tspan x="418.66" y="663.1" style="font-size:14.5px">2</tspan><tspan x="427.06" y="663.1" style="font-size:14.5px">0</tspan></text>
<text fill="#000" ><tspan x="502.46" y="663.1" style="font-size:14.5px">0</tspan><tspan x="510.77" y="663.1" style="font-size:14.5px">.</tspan><tspan x="515.05" y="663.1" style="font-size:14.5px">2</tspan><tspan x="523.44" y="663.1" style="font-size:14.5px">5</tspan></text>
<text fill="#000" ><tspan x="598.85" y="663.1" style="font-size:14.5px">0</tspan><tspan x="607.16" y="663.1" style="font-size:14.5px">.</tspan><tspan x="611.43" y="663.1" style="font-size:14.5px">3</tspan><tspan x="619.83" y="663.1" style="font-size:14.5px">0</tspan></text>
<text fill="#000" ><tspan x="393.59" y="651" style="font-size:14.5px">0</tspan><tspan x="401.9" y="651" style="font-size:14.5px">.</tspan><tspan x="406.17" y="651" style="font-size:14.5px">0</tspan></text>
<text fill="#000" ><tspan x="393.59" y="609.88" style="font-size:14.5px">0</tspan><tspan x="401.9" y="609.88" style="font-size:14.5px">.</tspan><tspan x="406.17" y="609.88" style="font-size:14.5px">1</tspan></text>
<text fill="#000" ><tspan x="393.59" y="568.75" style="font-size:14.5px">0</tspan><tspan x="401.9" y="568.75" style="font-size:14.5px">.</tspan><tspan x="406.17" y="568.75" style="font-size:14.5px">2</tspan></text>
<text fill="#000" ><tspan x="393.59" y="527.62" style="font-size:14.5px">0</tspan><tspan x="401.9" y="527.62" style="font-size:14.5px">.</tspan><tspan x="406.17" y="527.62" style="font-size:14.5px">3</tspan></text>
<text fill="#000" ><tspan x="393.59" y="486.5" style="font-size:14.5px">0</tspan><tspan x="401.9" y="486.5" style="font-size:14.5px">.</tspan><tspan x="406.17" y="486.5" style="font-size:14.5px">4</tspan></text>
<text fill="#000" ><tspan x="417.47" y="472" style="font-size:14.5px">8</tspan><tspan x="425.86" y="472" style="font-size:14.5px">0</tspan></text>
<text fill="#000" ><tspan x="469.07" y="472" style="font-size:14.5px">6</tspan><tspan x="477.46" y="472" style="font-size:14.5px">0</tspan></text>
<text fill="#000" ><tspan x="520.67" y="472" style="font-size:14.5px">4</tspan><tspan x="529.06" y="472" style="font-size:14.5px">0</tspan></text>
<text fill="#000" ><tspan x="572.27" y="472" style="font-size:14.5px">2</tspan><tspan x="580.66" y="472" style="font-size:14.5px">0</tspan></text>
<text fill="#000" ><tspan x="628.07" y="472" style="font-size:14.5px">0</tspan></text>
<text fill="#000" ><tspan x="55.52" y="26.5" style="font-size:16px">(</tspan><tspan x="61.39" y="26.5" style="font-size:16px">a</tspan><tspan x="70.84" y="26.5" style="font-size:16px">)</tspan></text>
<text fill="#000" ><tspan x="230.69" y="26.7" style="font-size:16px">B</tspan><tspan x="241.61" y="26.7" style="font-size:16px">i</tspan><tspan x="245.93" y="26.7" style="font-size:16px">2</tspan><tspan x="255.65" y="26.7" style="font-size:16px">2</tspan><tspan x="265.37" y="26.7" style="font-size:16px">0</tspan><tspan x="275.09" y="26.7" style="font-size:16px">1</tspan></text>
<text fill="#000" ><tspan x="431.62" y="26.5" style="font-size:16px">(</tspan><tspan x="437.66" y="26.5" style="font-size:16px">b</tspan><tspan x="447.28" y="26.5" style="font-size:16px">)</tspan></text>
<text fill="#000" ><tspan x="606.79" y="26.7" style="font-size:16px">B</tspan><tspan x="617.71" y="26.7" style="font-size:16px">i</tspan><tspan x="622.03" y="26.7" style="font-size:16px">2</tspan><tspan x="631.75" y="26.7" style="font-size:16px">2</tspan><tspan x="641.47" y="26.7" style="font-size:16px">0</tspan><tspan x="651.19" y="26.7" style="font-size:16px">1</tspan></text>
<text fill="#000" ><tspan x="55.52" y="240.5" style="font-size:16px">(</tspan><tspan x="61.36" y="240.5" style="font-size:16px">c</tspan><tspan x="69.88" y="240.5" style="font-size:16px">)</tspan></text>
<text fill="#000" ><tspan x="243.21" y="240.7" style="font-size:16px">L</tspan><tspan x="251.52" y="240.7" style="font-size:16px">S</tspan><tspan x="261.26" y="240.7" style="font-size:16px">C</tspan><tspan x="272.16" y="240.7" style="font-size:16px">O</tspan></text>
<text fill="#000" ><tspan x="431.62" y="240.5" style="font-size:16px">(</tspan><tspan x="437.66" y="240.5" style="font-size:16px">d</tspan><tspan x="447.28" y="240.5" style="font-size:16px">)</tspan></text>
<text fill="#000" ><tspan x="619.31" y="240.7" style="font-size:16px">L</tspan><tspan x="627.62" y="240.7" style="font-size:16px">S</tspan><tspan x="637.36" y="240.7" style="font-size:16px">C</tspan><tspan x="648.26" y="240.7" style="font-size:16px">O</tspan></text>
<text fill="#000" ><tspan x="55.52" y="503.5" style="font-size:16px">(</tspan><tspan x="61.41" y="503.5" style="font-size:16px">e</tspan><tspan x="70.88" y="503.5" style="font-size:16px">)</tspan></text>
<text fill="#000" ><tspan x="231.71" y="503.7" style="font-size:16px">T</tspan><tspan x="241.61" y="503.7" style="font-size:16px">l</tspan><tspan x="245.93" y="503.7" style="font-size:16px">2</tspan><tspan x="255.65" y="503.7" style="font-size:16px">2</tspan><tspan x="265.37" y="503.7" style="font-size:16px">0</tspan><tspan x="275.09" y="503.7" style="font-size:16px">1</tspan></text>
<text fill="#000" ><tspan x="431.62" y="503.5" style="font-size:16px">(</tspan><tspan x="437.73" y="503.5" style="font-size:16px">f</tspan><tspan x="442.96" y="503.5" style="font-size:16px">)</tspan></text>
<text fill="#000" ><tspan x="607.81" y="503.7" style="font-size:16px">T</tspan><tspan x="617.71" y="503.7" style="font-size:16px">l</tspan><tspan x="622.03" y="503.7" style="font-size:16px">2</tspan><tspan x="631.75" y="503.7" style="font-size:16px">2</tspan><tspan x="641.47" y="503.7" style="font-size:16px">0</tspan><tspan x="651.19" y="503.7" style="font-size:16px">1</tspan></text>
<text x="148.5" y="153.6" style="font-size:19px;font-style:italic">p</text>
<path d="M166.35 146.55L166.35 139.65M163.36 144.82L169.34 141.38M169.34 144.82L163.36 141.38" stroke="#000" stroke-width="1.3" stroke-linecap="round" fill="none"/>
<circle cx="166.35" cy="143.1" r="1.1" fill="#000"/>
<text x="524.8" y="153.6" style="font-size:19px;font-style:italic">p</text>
<path d="M542.65 146.65L542.65 139.75M539.66 144.92L545.64 141.47M545.64 144.92L539.66 141.47" stroke="#000" stroke-width="1.3" stroke-linecap="round" fill="none"/>
<circle cx="542.65" cy="143.2" r="1.1" fill="#000"/>
<text x="81.9" y="368" style="font-size:19px;font-style:italic">p</text>
<path d="M99.75 360.45L99.75 353.55M96.76 358.73L102.74 355.27M102.74 358.73L96.76 355.27" stroke="#000" stroke-width="1.3" stroke-linecap="round" fill="none"/>
<circle cx="99.75" cy="357" r="1.1" fill="#000"/>
<text x="458.2" y="368" style="font-size:19px;font-style:italic">p</text>
<path d="M476.05 360.45L476.05 353.55M473.06 358.73L479.04 355.27M479.04 358.73L473.06 355.27" stroke="#000" stroke-width="1.3" stroke-linecap="round" fill="none"/>
<circle cx="476.05" cy="357" r="1.1" fill="#000"/>
<text x="169.3" y="197.6" style="font-size:16px;font-style:italic" text-anchor="middle">p</text>
<text x="545.4" y="197.6" style="font-size:16px;font-style:italic" text-anchor="middle">p</text>
<text x="169.3" y="411.4" style="font-size:16px;font-style:italic" text-anchor="middle">p</text>
<text x="545.4" y="411.4" style="font-size:16px;font-style:italic" text-anchor="middle">p</text>
<text x="169.3" y="674.2" style="font-size:16px;font-style:italic" text-anchor="middle">p</text>
<text x="545.4" y="674.2" style="font-size:16px;font-style:italic" text-anchor="middle">p</text>
<text transform="translate(11.7,87.25) rotate(-90)" text-anchor="middle" textLength="90.5" lengthAdjust="spacing" style="font-size:16px"><tspan style="font-style:italic">γ</tspan><tspan style="font-size:11.2px" dy="2.4">1</tspan><tspan dy="-2.4"> (μΩcm/T)</tspan></text>
<text transform="translate(400.1,87.25) rotate(-90)" text-anchor="middle" textLength="92" lengthAdjust="spacing" style="font-size:16px"><tspan style="font-style:italic">α</tspan><tspan style="font-size:11.2px" dy="2.4">1</tspan><tspan dy="-2.4"> (μΩcm/K)</tspan></text>
<text transform="translate(11.7,301.25) rotate(-90)" text-anchor="middle" textLength="90.5" lengthAdjust="spacing" style="font-size:16px"><tspan style="font-style:italic">γ</tspan><tspan style="font-size:11.2px" dy="2.4">1</tspan><tspan dy="-2.4"> (μΩcm/T)</tspan></text>
<text transform="translate(387.9,301.25) rotate(-90)" text-anchor="middle" textLength="92" lengthAdjust="spacing" style="font-size:16px"><tspan style="font-style:italic">α</tspan><tspan style="font-size:11.2px" dy="2.4">1</tspan><tspan dy="-2.4"> (μΩcm/K)</tspan></text>
<text transform="translate(11.7,564.25) rotate(-90)" text-anchor="middle" textLength="90.5" lengthAdjust="spacing" style="font-size:16px"><tspan style="font-style:italic">γ</tspan><tspan style="font-size:11.2px" dy="2.4">1</tspan><tspan dy="-2.4"> (μΩcm/T)</tspan></text>
<text transform="translate(387.9,564.25) rotate(-90)" text-anchor="middle" textLength="92" lengthAdjust="spacing" style="font-size:16px"><tspan style="font-style:italic">α</tspan><tspan style="font-size:11.2px" dy="2.4">1</tspan><tspan dy="-2.4"> (μΩcm/K)</tspan></text>
<text y="451.5" style="font-size:16px"><tspan x="147.6" style="font-style:italic">T</tspan><tspan x="157.55" y="453.7" style="font-size:10.5px">c</tspan><tspan x="168.1" y="451.5">(</tspan><tspan x="174.4">K</tspan><tspan x="184.7">)</tspan></text>
<text y="451.5" style="font-size:16px"><tspan x="523.7" style="font-style:italic">T</tspan><tspan x="533.65" y="453.7" style="font-size:10.5px">c</tspan><tspan x="544.2" y="451.5">(</tspan><tspan x="550.5">K</tspan><tspan x="560.8">)</tspan></text>
</svg>
</body></html>
